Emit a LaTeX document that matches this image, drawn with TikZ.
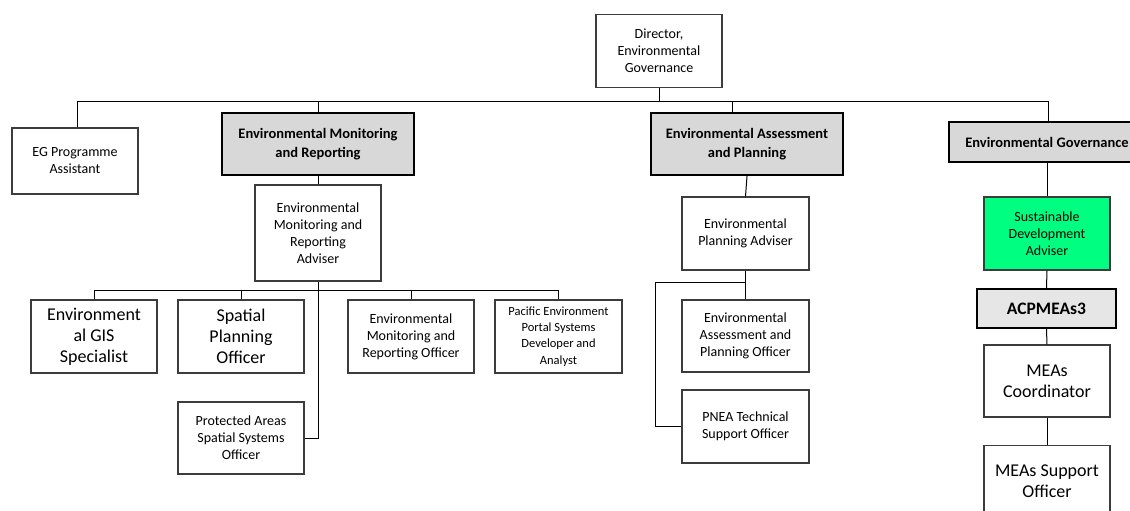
\documentclass[tikz,border=0pt]{standalone}
\usepackage{fontspec}
\setmainfont{Carlito}
\definecolor{hdgray}{RGB}{216,216,216}
\definecolor{acpgray}{RGB}{230,230,230}
\definecolor{sdgreen}{RGB}{0,255,128}
\definecolor{edge}{RGB}{60,60,60}
\begin{document}
\begin{tikzpicture}[x=1pt,y=-1pt,
  box/.style={draw=edge,line width=1.2pt,fill=white,align=center,inner sep=1pt,
    font=\fontsize{14}{17}\selectfont},
  big/.style={box,font=\fontsize{18}{21}\selectfont},
  small/.style={box,font=\fontsize{12.5}{16.3}\selectfont},
  head/.style={draw=black,line width=2.4pt,fill=hdgray,align=center,inner sep=1pt,
    font=\bfseries\fontsize{14.5}{19}\selectfont},
  link/.style={draw=black,line width=1pt}]
\useasboundingbox (0,0) rectangle (1130,511);
\fill[white] (0,0) rectangle (1130,511);
% top
\node[box,minimum width=126pt,minimum height=73pt] (dir) at (659,51) {Director,\\Environmental\\Governance};
\node[box,minimum width=126pt,minimum height=66pt] (ega) at (75,161) {EG Programme\\Assistant};
\node[head,minimum width=192pt,minimum height=62pt] (emr) at (318,144) {Environmental Monitoring\\and Reporting};
\node[head,minimum width=192pt,minimum height=62pt] (eap) at (747,144) {Environmental Assessment\\and Planning};
\node[head,minimum width=196pt,minimum height=40pt] (eg) at (1047,142) {Environmental Governance};
% monitoring branch
\node[box,minimum width=126pt,minimum height=96pt] (emra) at (318,233) {Environmental\\Monitoring and\\Reporting\\Adviser};
\node[big,minimum width=126pt,minimum height=73pt] (gis) at (94,336.5) {Environment\\al GIS\\Specialist};
\node[big,minimum width=126pt,minimum height=73pt] (spo) at (241,336.5) {Spatial\\Planning\\Officer};
\node[box,minimum width=126pt,minimum height=73pt] (emro) at (411,336.5) {Environmental\\Monitoring and\\Reporting Officer};
\node[small,minimum width=127pt,minimum height=73pt] (pep) at (558.5,336.5) {Pacific Environment\\Portal Systems\\Developer and\\Analyst};
\node[box,minimum width=126pt,minimum height=72pt] (pas) at (241,438) {Protected Areas\\Spatial Systems\\Officer};
% assessment branch
\node[box,minimum width=127pt,minimum height=73pt] (epa) at (745.5,233.5) {Environmental\\Planning Adviser};
\node[box,minimum width=127pt,minimum height=72pt] (eapo) at (745.5,336) {Environmental\\Assessment and\\Planning Officer};
\node[box,minimum width=127pt,minimum height=73pt] (pnea) at (745.5,426.5) {PNEA Technical\\Support Officer};
% governance branch
\node[box,fill=sdgreen,minimum width=126pt,minimum height=73pt] (sda) at (1047,233.5) {Sustainable\\Development\\Adviser};
\node[head,fill=acpgray,font=\bfseries\fontsize{17.5}{20}\selectfont,minimum width=139pt,minimum height=39pt] (acp) at (1046.5,308.5) {ACPMEAs3};
\node[big,minimum width=126pt,minimum height=72pt] (meac) at (1047,381) {MEAs\\Coordinator};
\node[big,minimum width=126pt,minimum height=72pt,anchor=north] (meas) at (1047,445) {MEAs Support\\Officer};
% connectors
\coordinate (busL) at (77,101);
\coordinate (busR) at (1048,101);
\coordinate (busA) at (732,101);
\draw[link] (dir.south) -- (dir.south |- busL);
\draw[link] (ega.north -| busL) -- (busL) -- (busR) -- (busR |- eg.north);
\draw[link] (emr.north) -- (emr.north |- busL);
\draw[link] (busA) -- (busA |- eap.north);
\draw[link] (emr.south) -- (emra.north);
\coordinate (b2L) at (94,290);
\coordinate (b2R) at (558.5,290);
\draw[link] (gis.north) -- (b2L) -- (b2R) -- (pep.north);
\draw[link] (spo.north) -- (spo.north |- b2L);
\draw[link] (emro.north) -- (emro.north |- b2L);
\draw[link] (emra.south) |- (pas.east);
\draw[link] (eap.south) -- (epa.north);
\draw[link] (epa.south) -- (eapo.north);
\coordinate (lk) at (655,282);
\draw[link] (epa.south |- lk) -- (lk) |- (pnea.west);
\draw[link] (eg.south) -- (sda.north);
\draw[link] (sda.south) -- (acp.north);
\draw[link] (acp.south) -- (meac.north);
\draw[link] (meac.south) -- (meas.north);
\end{tikzpicture}
\end{document}
